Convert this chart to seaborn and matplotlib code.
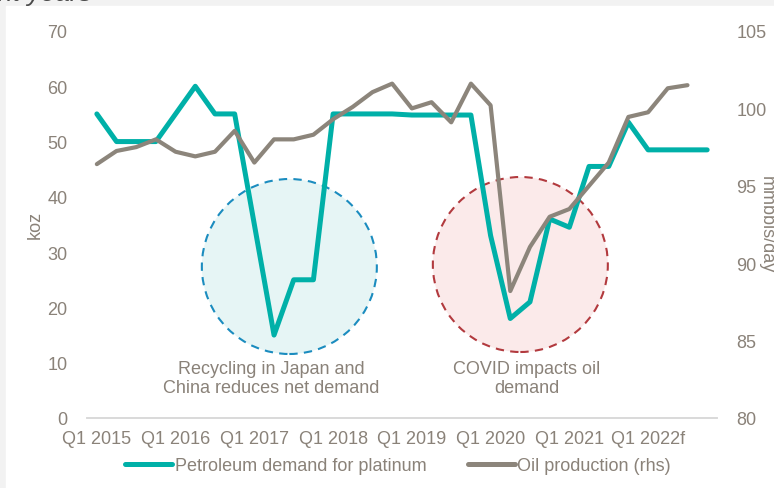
import numpy as np
import pandas as pd
import seaborn as sns
import matplotlib.pyplot as plt
from matplotlib.patches import Ellipse, Rectangle
from matplotlib.lines import Line2D

# quarterly series, Q1 2015 .. Q4 2022
years = ["2015", "2016", "2017", "2018", "2019", "2020", "2021", "2022f"]
quarters = [f"Q{q} {y}" for y in years for q in range(1, 5)]
tick_labels = [f"Q1 {y}" for y in years]

petroleum_koz = [55, 50, 50, 50,
                 55, 60, 55, 55,
                 35, 15, 25, 25,
                 55, 55, 55, 55,
                 54.8, 54.8, 54.8, 54.8,
                 33, 18, 21, 36,
                 34.5, 45.5, 45.5, 53.5,
                 48.5, 48.5, 48.5, 48.5]
oil_mmbbls = [96.4, 97.25, 97.5, 98.0,
              97.2, 96.9, 97.2, 98.55,
              96.5, 98.0, 98.0, 98.3,
              99.3, 100.1, 101.05, 101.6,
              100.0, 100.4, 99.1, 101.6,
              100.2, 88.2, 91.05, 93.0,
              93.5, 95.0, 96.5, 99.45,
              99.75, 101.3, 101.5]

notes = ["Recycling in Japan and\nChina reduces net demand", "COVID impacts oil\ndemand"]

TEAL = "#00b0a8"
GREY = "#8c857b"
TXT = "#8a8279"

df_pt = pd.DataFrame({"q": np.arange(len(petroleum_koz)), "koz": petroleum_koz})
df_oil = pd.DataFrame({"q": np.arange(len(oil_mmbbls)), "oil": oil_mmbbls})

sns.set_theme(style="white")
plt.rcParams["font.family"] = ["Liberation Sans", "DejaVu Sans"]
plt.rcParams["font.size"] = 13

fig = plt.figure(figsize=(7.74, 4.89), dpi=100)
# grey card border like the screenshot
fig.patches.append(Rectangle((0, 0), 1, 1, transform=fig.transFigure, color="#f2f2f2", zorder=-10))
fig.patches.append(Rectangle((6 / 774, 0), 1, 1 - 7 / 489, transform=fig.transFigure, color="white", zorder=-9))
fig.text(-2 / 774, 1 - 1 / 489, "nt years", style="italic", fontsize=19, color="#4a4a4a", va="baseline", ha="left")

ax = fig.add_axes([87 / 774, 1 - 419 / 489, 630 / 774, 387 / 489])
ax.set_facecolor("none")
ax2 = ax.twinx()

# highlight circles (left axis data units, sized to look round)
px_x = 630 / 32.0
px_y = 387 / 70.0
r_px = 87.5
circles = [((289.5 - 97) / px_x, (419 - 267.5) / px_y, "#e6f5f5", "#1b8cbf"),
           ((520.5 - 97) / px_x, (419 - 265.5) / px_y, "#fbeaea", "#b23a3e")]
for cx, cy, fc, ec in circles:
    ax.add_patch(Ellipse((cx, cy), 2 * r_px / px_x, 2 * r_px / px_y, facecolor=fc,
                         edgecolor=ec, linestyle=(0, (4, 3)), linewidth=1.5, zorder=1))

sns.lineplot(data=df_pt, x="q", y="koz", ax=ax, color=TEAL, linewidth=3.6, zorder=3)
sns.lineplot(data=df_oil, x="q", y="oil", ax=ax2, color=GREY, linewidth=3.0, zorder=3)

ax.text((271 - 97) / px_x, (419 - 379) / px_y, notes[0], ha="center", va="center", color=TXT, fontsize=13, linespacing=1.1)
ax.text((527 - 97) / px_x, (419 - 379) / px_y, notes[1], ha="center", va="center", color=TXT, fontsize=13, linespacing=1.1)

ax.set_xlim(-0.5, 31.5)
ax.set_ylim(0, 70)
ax2.set_ylim(80, 105)
ax.set_xticks(np.arange(0, 32, 4))
ax.set_xticklabels(tick_labels)
ax.set_yticks(np.arange(0, 71, 10))
ax2.set_yticks(np.arange(80, 106, 5))
ax.set_xlabel("")
ax.set_ylabel("")
ax2.set_ylabel("")
fig.text(35 / 774, 1 - 225 / 489, "koz", rotation=90, ha="center", va="center", color=TXT, fontsize=13)
fig.text(766 / 774, 1 - 225 / 489, "mmbbls/day", rotation=270, ha="center", va="center", color=TXT, fontsize=13)

ax.tick_params(axis="x", length=0, pad=9, colors=TXT, labelsize=13)
ax.tick_params(axis="y", length=0, pad=14, colors=TXT, labelsize=13)
ax2.tick_params(axis="y", length=0, pad=14, colors=TXT, labelsize=13)

for a in (ax, ax2):
    for s in ("top", "left", "right"):
        a.spines[s].set_visible(False)
    a.spines["bottom"].set_color("#d9d9d9")
    a.spines["bottom"].set_linewidth(1.2)
    a.grid(False)

handles = [Line2D([], [], color=TEAL, linewidth=3.6), Line2D([], [], color=GREY, linewidth=3.6)]
fig.legend(handles, ["Petroleum demand for platinum", "Oil production (rhs)"], loc="center",
           bbox_to_anchor=(398 / 774, 1 - 467 / 489), ncol=2, frameon=False, fontsize=13,
           handlelength=2.6, handletextpad=0.15, columnspacing=2.3, labelcolor=TXT)

fig.savefig("out.png", dpi=100)
